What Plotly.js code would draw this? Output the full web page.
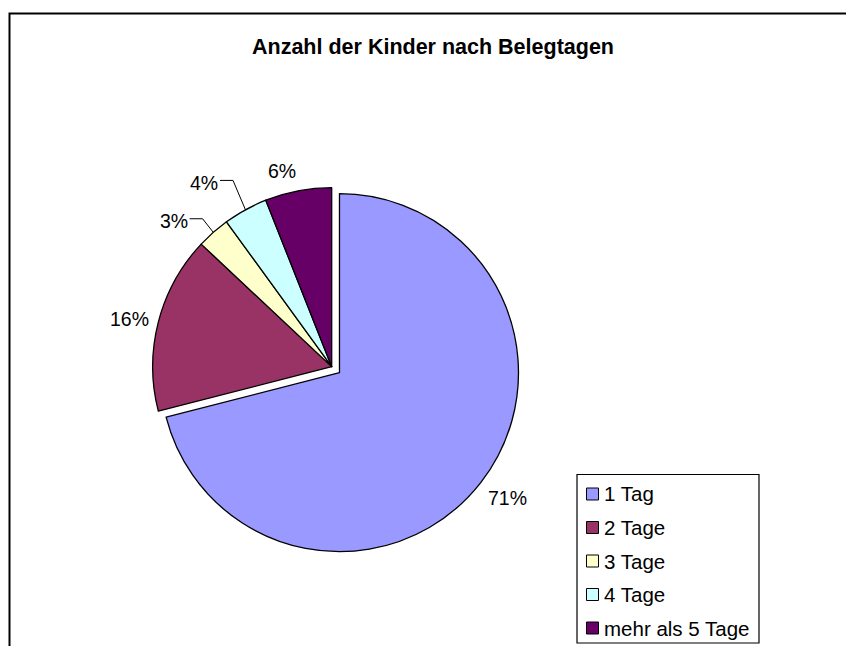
<!DOCTYPE html>
<html>
<head>
<meta charset="utf-8">
<script src="https://cdn.plot.ly/plotly-3.0.1.min.js"></script>
<style>html,body{margin:0;padding:0;background:#fff;}#chart{width:846px;height:646px;}</style>
</head>
<body>
<div id="chart"></div>
<script>
// ---- data ----
const categories = ["1 Tag", "2 Tage", "3 Tage", "4 Tage", "mehr als 5 Tage"];
const values = [71, 16, 3, 4, 6];
const chartTitle = "Anzahl der Kinder nach Belegtagen";

// ---- styles / layout config ----
const colors = ["#9999FF", "#993366", "#FFFFCC", "#CCFFFF", "#660066"];
const pulls = [0.055, 0, 0, 0, 0];
// per-slice label placement: radius factor (of pie radius) and angle shift in degrees, leader line flag
const labelRadius = [1.17, 1.16, 1.2, 1.25, 1.13];
const labelShift = [-1, -1, -6, -6, -3.5];
const labelLeader = [false, false, true, true, false];

const W = 846, H = 646;
const font = "Liberation Sans, Arial, sans-serif";
const px = v => v / W;
const py = v => 1 - v / H;

// pie box in pixels
const box = { x0: 142.8, x1: 520.6, y0: 177.8, y1: 555.5 };
const maxPull = Math.max(...pulls);
const R = Math.min(box.x1 - box.x0, box.y1 - box.y0) / (2 + 2 * maxPull);
const CX = (box.x0 + box.x1) / 2, CY = (box.y0 + box.y1) / 2;

const pie = {
  type: "pie",
  labels: categories,
  values: values,
  sort: false,
  direction: "clockwise",
  rotation: 0,
  pull: pulls,
  marker: { colors: colors, line: { color: "#000", width: 1.3 } },
  textinfo: "none",
  domain: { x: [px(box.x0), px(box.x1)], y: [py(box.y1), py(box.y0)] },
  showlegend: false,
  hoverinfo: "label+percent"
};

// labels & leader lines computed from the data
const total = values.reduce((a, b) => a + b, 0);
const annotations = [];
const leaderX = [], leaderY = [];
let cum = 0;
values.forEach((v, i) => {
  const mid = (cum + v / 2) / total * 2 * Math.PI;
  cum += v;
  const ox = CX + pulls[i] * R * Math.sin(mid);
  const oy = CY - pulls[i] * R * Math.cos(mid);
  const a = mid + labelShift[i] * Math.PI / 180;
  const lx = ox + labelRadius[i] * R * Math.sin(a);
  const ly = oy - labelRadius[i] * R * Math.cos(a);
  const pct = Math.round(v / total * 100) + "%";
  annotations.push({ xref: "x", yref: "y", x: lx, y: ly, xanchor: "center", yanchor: "middle",
    text: pct, showarrow: false, font: { family: font, size: 19.5, color: "#000" } });
  if (labelLeader[i]) {
    const ex = ox + R * Math.sin(mid), ey = oy - R * Math.cos(mid);
    const sx = lx + 16, sy = ly - 2.5;
    leaderX.push(sx, sx + 13, ex, null);
    leaderY.push(sy, sy, ey, null);
  }
});

const leaders = {
  type: "scatter", mode: "lines", x: leaderX, y: leaderY, xaxis: "x", yaxis: "y",
  line: { color: "#000", width: 1 }, hoverinfo: "skip", showlegend: false
};

const shapes = [
  { type: "rect", xref: "paper", yref: "paper", x0: px(9.5), x1: 1.2, y0: -0.2, y1: py(13.5),
    line: { color: "#000", width: 2 }, fillcolor: "rgba(0,0,0,0)", layer: "below" },
  { type: "rect", xref: "paper", yref: "paper", x0: px(577), x1: px(759), y0: py(643), y1: py(474.5),
    line: { color: "#000", width: 1.2 }, fillcolor: "#fff" }
];
const legTop = 494, legStep = 33.5;
categories.forEach((c, i) => {
  const yc = legTop + i * legStep;
  shapes.push({ type: "rect", xref: "paper", yref: "paper",
    x0: px(586.5), x1: px(598.5), y0: py(yc + 6), y1: py(yc - 6),
    line: { color: "#000", width: 1 }, fillcolor: colors[i] });
  annotations.push({ xref: "paper", yref: "paper", x: px(602), y: py(yc), xanchor: "left", yanchor: "middle",
    text: c, showarrow: false, font: { family: font, size: 20.5, color: "#000" } });
});

const layout = {
  width: W, height: H,
  margin: { l: 0, r: 0, t: 0, b: 0 },
  paper_bgcolor: "#fff",
  plot_bgcolor: "rgba(0,0,0,0)",
  xaxis: { range: [0, W], visible: false, fixedrange: true, domain: [0, 1] },
  yaxis: { range: [H, 0], visible: false, fixedrange: true, domain: [0, 1] },
  title: { text: "<b>" + chartTitle + "</b>", x: px(433), y: py(46), xref: "container", yref: "container",
    xanchor: "center", yanchor: "middle", font: { family: font, size: 21.5, color: "#000" } },
  shapes: shapes,
  annotations: annotations,
  showlegend: false
};

Plotly.newPlot("chart", [pie, leaders], layout, { displayModeBar: false, staticPlot: true });
</script>
</body>
</html>
